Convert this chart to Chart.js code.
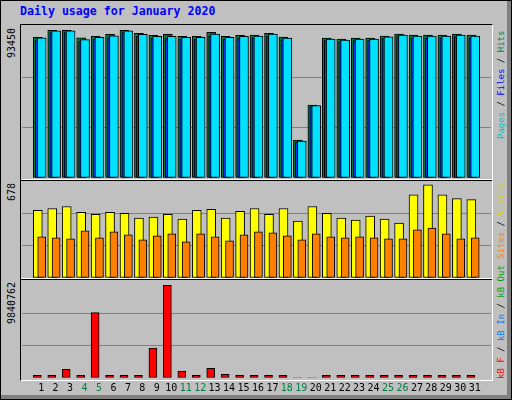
<!DOCTYPE html>
<html>
<head>
<meta charset="utf-8">
<script src="https://cdn.jsdelivr.net/npm/chart.js@4.4.1/dist/chart.umd.min.js"></script>
<style>
  body { margin: 0; background: #fff; }
  #wrap { position: relative; width: 510px; height: 398px; background: #C0C0C0; border: 1px solid #000; overflow: hidden; font-family: "DejaVu Sans Mono", monospace; }
  .abs { position: absolute; }
  canvas { position: absolute; }
  .rot { position: absolute; transform: rotate(-90deg); transform-origin: left top; white-space: pre; }
</style>
</head>
<body>
<div id="wrap">
  <div class="abs" style="right:0;top:0;width:4px;height:398px;background:#808080"></div>
  <div class="abs" style="left:0;bottom:0;width:510px;height:4px;background:#808080"></div>
  <div class="abs" style="left:19px;top:3px;font-size:11.6px;font-weight:bold;color:#0000FF">Daily usage for January 2020</div>
  <div class="abs" style="left:19px;top:23px;width:471px;height:355px;border-top:1px solid #000;border-left:1px solid #000;border-right:1px solid #fff;border-bottom:1px solid #fff"></div>
  <div class="abs" style="left:20px;top:178px;width:471px;height:1px;background:#fff"></div>
  <div class="abs" style="left:20px;top:179px;width:471px;height:1px;background:#000"></div>
  <div class="abs" style="left:20px;top:277px;width:471px;height:1px;background:#fff"></div>
  <div class="abs" style="left:20px;top:278px;width:471px;height:1px;background:#000"></div>
  <canvas id="c1" style="left:21px;top:26px;width:469px;height:151px"></canvas>
  <canvas id="c2" style="left:21px;top:180px;width:469px;height:97px"></canvas>
  <canvas id="c3" style="left:21px;top:280px;width:469px;height:117px"></canvas>
  <div class="rot" style="left:5px;top:57px;font-size:10px">93450</div>
  <div class="rot" style="left:5px;top:200px;font-size:10px">678</div>
  <div class="rot" style="left:5px;top:323px;font-size:10px">9840762</div>
  <div class="rot" style="left:495px;top:138px;font-size:9px"><span style="color:#00C0C0">Pages</span> / <span style="color:#0000FF">Files</span> / <span style="color:#008040">Hits</span></div>
  <div class="rot" style="left:495px;top:258px;font-size:9px"><span style="color:#FF8000">Sites</span> / <span style="color:#D8D800">Visits</span></div>
  <div class="rot" style="left:495px;top:378px;font-size:9px"><span style="color:#FF0000">kB F</span> / <span style="color:#0080FF">kB In</span> / <span style="color:#00A000">kB Out</span></div>
</div>
<script>
const days = [1,2,3,4,5,6,7,8,9,10,11,12,13,14,15,16,17,18,19,20,21,22,23,24,25,26,27,28,29,30,31];
const weekend = [4,5,11,12,18,19,25,26];
const hits  = [87100,91400,91400,86800,87700,88900,91400,89500,88300,88900,87700,87700,90200,87700,88300,88500,89550,87200,23500,45200,86640,86000,86640,86640,87900,89100,88500,88500,88500,89100,88500];
const files = [85500,90000,90000,84500,85800,86800,90000,87800,86600,86600,85800,85800,88000,85800,86600,86800,87900,85500,22000,44000,85000,84300,85000,85000,86300,87500,86800,86800,86800,87500,86800];
const pages = [86800,91100,91100,85600,87100,88000,91100,88900,87700,87700,87100,87100,89000,87100,87700,87900,89000,86600,22900,44800,86000,85400,86000,86000,87300,88500,87900,87900,87900,88500,87900];
const visits = [473,486,500,459,445,459,452,418,425,445,411,473,480,418,466,486,445,486,397,500,452,418,404,432,411,384,582,651,582,555,548];
const sites  = [288,281,274,329,281,322,301,267,295,308,253,308,288,260,301,322,315,295,267,308,288,281,288,281,274,274,336,349,308,274,281];
const kbF = [280000,280000,890000,280000,6630000,280000,280000,280000,3040000,9400000,690000,280000,990000,380000,280000,280000,280000,280000,50000,50000,280000,280000,280000,280000,280000,280000,280000,280000,280000,280000,280000];
const maxHits = 93450, maxVisits = 678, maxKB = 9840762;

const daySpacing = 14.93;
const xMin = 1 - 12 / daySpacing, xMax = 31 + 9 / daySpacing;

function pts(vals, offPx) {
  return vals.map((v, i) => ({ x: days[i] + offPx / daySpacing, y: v }));
}
function bars(label, vals, color, offPx, width, order) {
  return { label: label, data: pts(vals, offPx), backgroundColor: color, borderColor: '#000', borderWidth: 1,
           borderSkipped: false, barThickness: width, grouped: false, order: order };
}
function yScale(max) {
  return {
    min: 0, max: max,
    afterBuildTicks: s => { s.ticks = [0, max / 3, 2 * max / 3, max].map(v => ({ value: v })); },
    ticks: { display: false },
    border: { display: false },
    grid: { color: c => (c.index === 1 || c.index === 2) ? '#808080' : 'rgba(0,0,0,0)', drawTicks: false, lineWidth: 1 }
  };
}
function baseOptions(max, showX) {
  return {
    responsive: false, animation: false,
    layout: { padding: 0 },
    plugins: { legend: { display: false }, tooltip: { enabled: false } },
    scales: {
      x: {
        type: 'linear', min: xMin, max: xMax, display: showX,
        afterBuildTicks: s => { s.ticks = days.map(d => ({ value: d })); },
        ticks: { autoSkip: false, maxRotation: 0, padding: 4, color: c => weekend.includes(c.tick.value) ? '#008040' : '#000',
                 font: { family: 'DejaVu Sans Mono', size: 10 } },
        grid: { display: false, drawTicks: false }, border: { display: false }
      },
      y: yScale(max)
    }
  };
}
function size(id) { const c = document.getElementById(id); c.width = parseInt(c.style.width); c.height = parseInt(c.style.height); return c; }

new Chart(size('c1'), { type: 'bar', data: { datasets: [
  bars('Pages', pages, '#00E0FF', 0.5, 9, 1),
  bars('Files', files, '#0040FF', -2, 8, 2),
  bars('Hits', hits, '#008040', -3.5, 9, 3)
] }, options: baseOptions(maxHits, false) });

new Chart(size('c2'), { type: 'bar', data: { datasets: [
  bars('Sites', sites, '#FF8000', 0.5, 8, 1),
  bars('Visits', visits, '#FFFF00', -3.5, 9, 2)
] }, options: baseOptions(maxVisits, false) });

new Chart(size('c3'), { type: 'bar', data: { datasets: [
  bars('kB F', kbF, '#FF0000', -4, 8, 1)
] }, options: baseOptions(maxKB, true) });
</script>
</body>
</html>
